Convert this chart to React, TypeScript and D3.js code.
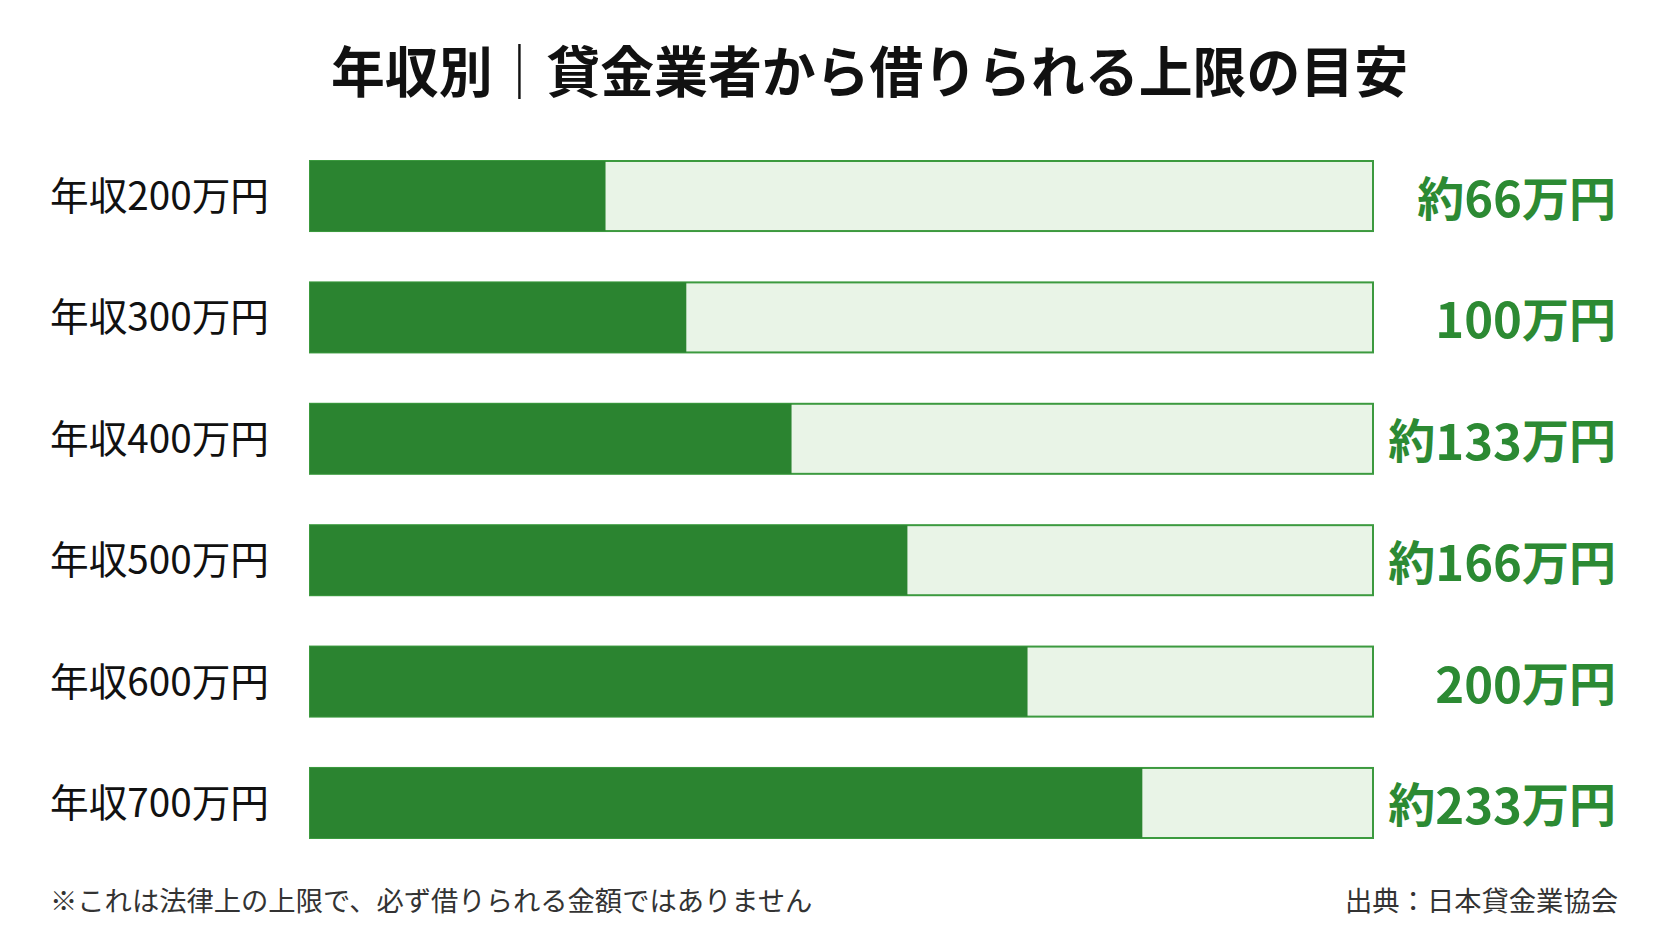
import React, { useEffect } from 'react';
import * as d3 from 'd3';

// 年収カテゴリ
const incomeLabels = ['年収200万円', '年収300万円', '年収400万円', '年収500万円', '年収600万円', '年収700万円'];
// 借入上限の目安（万円）
const limitValues = [66, 100, 133, 166, 200, 233];
// 「約」が付くかどうか
const approxFlags = [true, false, true, true, false, true];
// バーの塗り割合（トラックに対する％、画像から読み取り）
const fillPercent = [27.8, 35.4, 45.3, 56.2, 67.5, 78.3];

const title = '年収別｜貸金業者から借りられる上限の目安';
const footnote = '※これは法律上の上限で、必ず借りられる金額ではありません';
const source = '出典：日本貸金業協会';

const W = 1672;
const H = 941;
const FONT = '"Noto Sans CJK JP", "Noto Sans", sans-serif';

const GREEN = '#2b8430';
const TRACK = '#e9f4e7';
const BORDER = '#3c9a3f';
const VALUE_GREEN = '#2c8a33';

export default function App() {
  useEffect(() => {
    document.body.style.margin = '0';
  }, []);

  const x = d3.scaleLinear().domain([0, 100]).range([310, 1373]);
  const y = d3.scaleBand<string>()
    .domain(incomeLabels)
    .range([161, 838])
    .paddingInner(0.423)
    .paddingOuter(0);

  const bw = y.bandwidth();

  return (
    <svg width={W} height={H} style={{ display: 'block', background: '#ffffff', fontFamily: FONT }}>
      {/* Title */}
      <text
        x={331}
        y={68}
        dominantBaseline="central"
        fontSize={55}
        fontWeight={700}
        fill="#111111"
        textLength={1077}
        lengthAdjust="spacingAndGlyphs"
      >
        {title}
      </text>

      {incomeLabels.map((label, i) => {
        const top = y(label) ?? 0;
        const cy = top + bw / 2;
        const value = limitValues[i];
        return (
          <g key={label}>
            {/* track */}
            <rect
              x={x(0)}
              y={top}
              width={x(100) - x(0)}
              height={bw}
              fill={TRACK}
              stroke={BORDER}
              strokeWidth={2}
            />
            {/* fill */}
            <rect
              x={x(0)}
              y={top}
              width={x(fillPercent[i]) - x(0)}
              height={bw}
              fill={GREEN}
            />
            {/* category label */}
            <text
              x={50}
              y={cy - 3}
              dominantBaseline="central"
              fontSize={39}
              fill="#111111"
              textLength={219}
              lengthAdjust="spacingAndGlyphs"
            >
              {label}
            </text>
            {/* value label */}
            <text
              x={1616}
              y={cy - 1}
              dominantBaseline="central"
              textAnchor="end"
              fontSize={47}
              fontWeight={700}
              fill={VALUE_GREEN}
            >
              {approxFlags[i] ? '約' : ''}
              <tspan fontSize={49}>{value}</tspan>
              万円
            </text>
          </g>
        );
      })}

      {/* footnote & source */}
      <text x={50} y={899} dominantBaseline="central" fontSize={27.3} fill="#333333">
        {footnote}
      </text>
      <text x={1618} y={899} dominantBaseline="central" textAnchor="end" fontSize={27.3} fill="#333333">
        {source}
      </text>
    </svg>
  );
}
